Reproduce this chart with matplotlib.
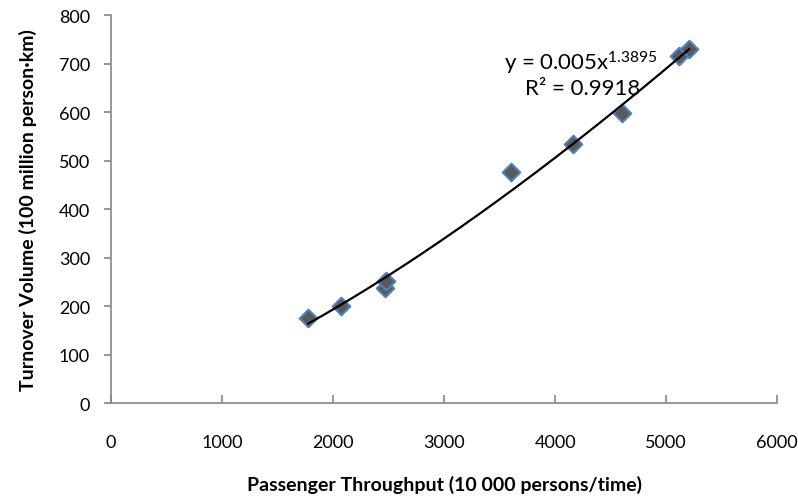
import matplotlib.pyplot as plt
import numpy as np

plt.rcParams['font.family'] = ['Lato', 'DejaVu Sans']
plt.rcParams['mathtext.fontset'] = 'custom'
plt.rcParams['mathtext.rm'] = 'Lato'
plt.rcParams['mathtext.it'] = 'Lato'

# passenger throughput (10 000 persons/time) vs turnover volume
throughput = [1775, 2072, 2468, 2477, 3604, 4160, 4604, 5117, 5207]
turnover = [175, 200, 237, 251, 476, 535, 599, 715, 731]

# power trendline shown on the chart
coef_a = 0.005
coef_b = 1.3895
r_squared = 0.9918

x_ticks = [0, 1000, 2000, 3000, 4000, 5000, 6000]
y_ticks = [0, 100, 200, 300, 400, 500, 600, 700, 800]

fig = plt.figure(figsize=(7.98, 5.02), dpi=100)
ax = fig.add_axes([0.139, 0.195, 0.835, 0.773])

xs = np.linspace(min(throughput), max(throughput), 200)
ax.plot(xs, coef_a * xs ** coef_b, color='black', lw=1.6, zorder=3)
ax.scatter(throughput, turnover, marker='D', s=80, facecolor='#595959',
           edgecolor='#4F81BD', linewidths=1.5, zorder=2)

ax.set_xlim(0, 6000)
ax.set_ylim(0, 800)
ax.set_xticks(x_ticks)
ax.set_yticks(y_ticks)

for s in ['top', 'right']:
    ax.spines[s].set_visible(False)
for s in ['left', 'bottom']:
    ax.spines[s].set_color('#868686')
    ax.spines[s].set_linewidth(1.2)

ax.tick_params(axis='x', direction='in', length=6, width=1.2, color='#868686',
               pad=22, labelsize=13)
ax.tick_params(axis='y', direction='out', length=5, width=1.2, color='#868686',
               pad=10, labelsize=13)

ax.set_xlabel('Passenger Throughput (10 000 persons/time)', fontsize=14,
              fontweight='bold', labelpad=18)
ax.set_ylabel('Turnover Volume (100 million person·km)', fontsize=14,
              fontweight='bold', labelpad=16)

ax.text(3540, 674, r'y = 0.005x$^{1.3895}$', fontsize=16, va='bottom')
ax.text(3730, 630, 'R² = %.4f' % r_squared, fontsize=16, va='bottom')

plt.savefig('out.png', dpi=100)
